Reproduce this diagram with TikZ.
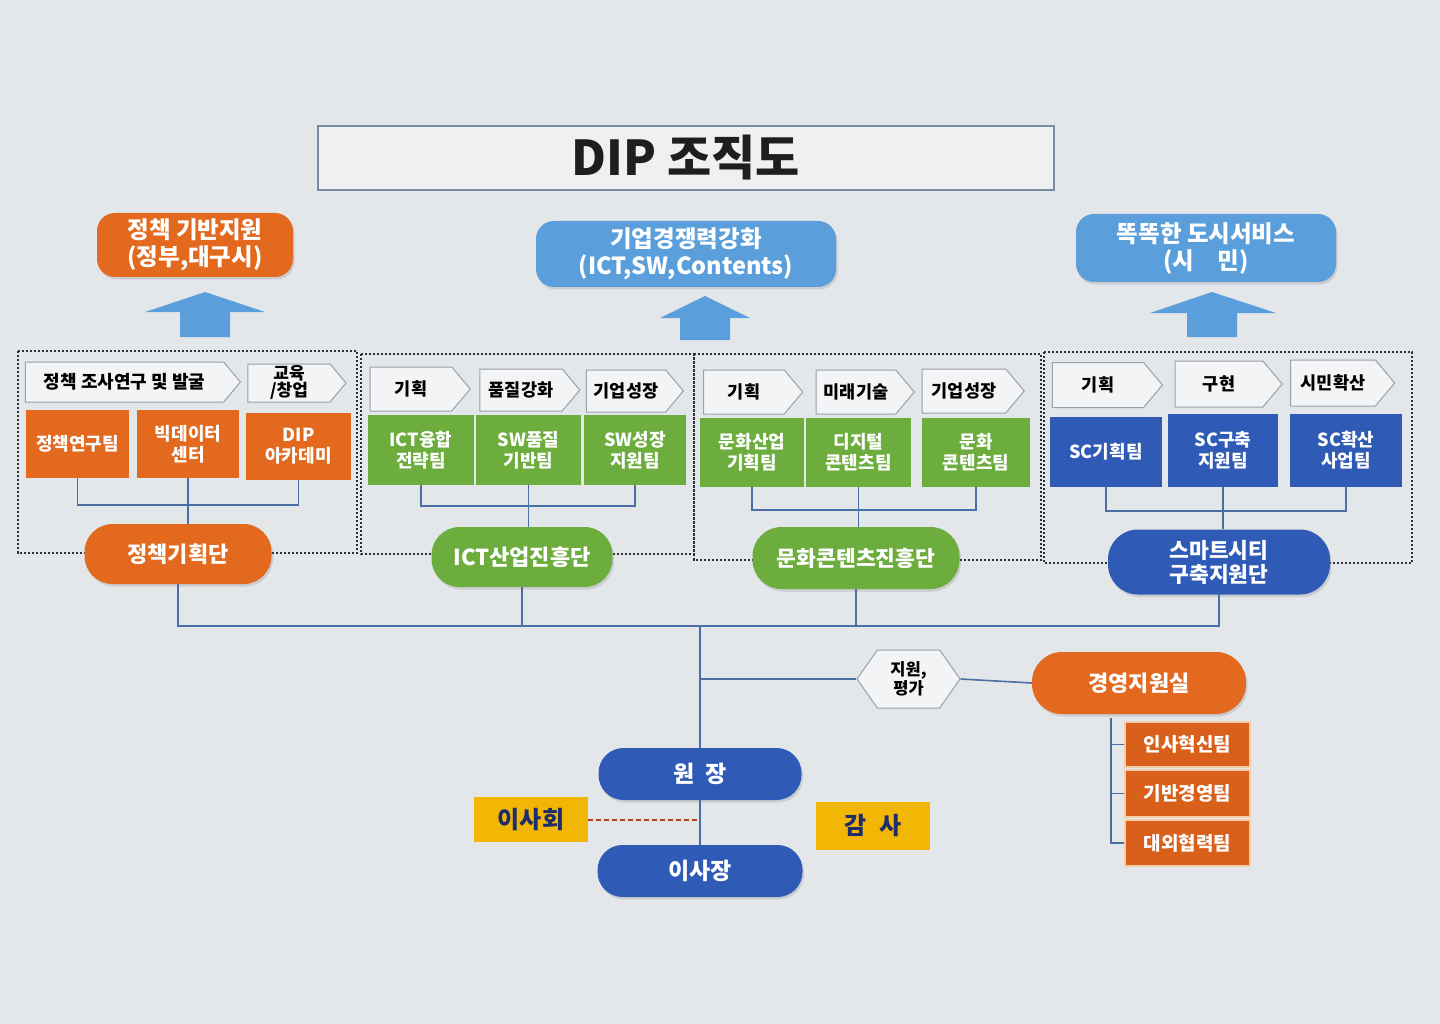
\documentclass[tikz,border=0pt]{standalone}
\usepackage{fontspec}
\setmainfont{Noto Sans CJK KR}
\usetikzlibrary{shapes.symbols,shadows}
\definecolor{bg}{HTML}{E4E7EA}
\definecolor{org}{HTML}{E2691E}
\definecolor{orgd}{HTML}{D8601A}
\definecolor{grn}{HTML}{6CAD3E}
\definecolor{blu}{HTML}{2F5BB7}
\definecolor{lblu}{HTML}{5A9FDB}
\definecolor{yel}{HTML}{F2B705}
\definecolor{navy}{HTML}{1E2D6B}
\definecolor{conn}{HTML}{4A6FA5}
\definecolor{chevfill}{HTML}{F3F4F6}
\definecolor{chevline}{HTML}{9AA0A8}
\definecolor{dotc}{HTML}{2A2F3C}
\definecolor{titleline}{HTML}{788CA5}
\definecolor{titlefill}{HTML}{EEF0F2}
\definecolor{titletext}{HTML}{1E1E1E}
\definecolor{steamline}{HTML}{F6CDAA}
\definecolor{dashred}{HTML}{B5421E}
\begin{document}
\begin{tikzpicture}[x=1pt,y=-1pt,
  sz/.style 2 args={minimum width=#1pt, minimum height=#2pt},
  team/.style={rectangle, inner sep=0pt, align=center, text=white,
    font=\fontsize{18}{21}\selectfont\bfseries},
  oteam/.style={team, fill=org},
  gteam/.style={team, fill=grn},
  bteam/.style={team, fill=blu},
  pill/.style={rectangle, rounded corners=#1, inner sep=0pt, align=center, text=white,
    font=\fontsize{22}{25}\selectfont\bfseries,
    drop shadow={opacity=0.25, shadow xshift=1.5pt, shadow yshift=-2.5pt}},
  chev/.style={signal, signal to=east, signal pointer angle=100, draw=chevline,
    line width=1pt, fill=chevfill, inner sep=0pt, align=center, text=black,
    font=\fontsize{17.5}{19}\selectfont\bfseries},
  dotbox/.style={draw=dotc, line width=2.4pt, dash pattern=on 2.4pt off 1.6pt},
  link/.style={draw=conn, line width=1.6pt},
  uparrow/.style={fill=lblu},
  ybox/.style={rectangle, fill=yel, inner sep=0pt, text=navy,
    font=\fontsize{24}{26}\selectfont\bfseries},
  steam/.style={rectangle, fill=orgd, draw=steamline, line width=1.2pt,
    inner sep=0pt, text=white, font=\fontsize{19}{21}\selectfont\bfseries}
]
\fill[bg] (0,0) rectangle (1440,1024);
\useasboundingbox (0,0) rectangle (1440,1024);

% title
\node[draw=titleline, line width=1.2pt, fill=titlefill, sz={736}{64},
  font=\fontsize{48}{52}\selectfont\bfseries, text=titletext] (title) at (686,158) {DIP 조직도};

% goals
\node[pill=18pt, fill=org, sz={196}{64}, font=\fontsize{23.5}{27}\selectfont\bfseries] (g1) at (195,245) {정책 기반지원\\(정부,대구시)};
\node[pill=18pt, fill=lblu, sz={300}{66}, font=\fontsize{23.5}{27}\selectfont\bfseries] (g2) at (686,254) {기업경쟁력강화\\(ICT,SW,Contents)};
\node[pill=18pt, fill=lblu, sz={260}{68}, font=\fontsize{23.5}{27}\selectfont\bfseries] (g3) at (1206,248) {똑똑한 도시서비스\\(시\quad 민)};

% up arrows
\fill[uparrow] (205,292) -- (265,312) -- (230,312) -- (230,337) -- (180,337) -- (180,312) -- (145,312) -- cycle;
\fill[uparrow] (705,296) -- (750,318) -- (730,318) -- (730,340) -- (680,340) -- (680,318) -- (660,318) -- cycle;
\fill[uparrow] (1212,292) -- (1276,313) -- (1237,313) -- (1237,337) -- (1187,337) -- (1187,313) -- (1150,313) -- cycle;

% dotted group frames
\draw[dotbox] (18,351) rectangle (357,553);
\draw[dotbox] (361,354) rectangle (694,554);
\draw[dotbox] (694,354) rectangle (1041,560);
\draw[dotbox] (1044,352) rectangle (1412,563);

% chevrons
\node[chev, sz={215}{40}, font=\fontsize{18}{20}\selectfont\bfseries] (c1a) at (124.5,382) {정책 조사연구 및 발굴};
\node[chev, sz={98}{38}, font=\fontsize{17}{17}\selectfont\bfseries] (c1b) at (289,383) {교육\\/창업};
\node[chev, sz={100}{44}] (c2a) at (411,389) {기획};
\node[chev, sz={100}{42}] (c2b) at (521,390) {품질강화};
\node[chev, sz={97}{42}] (c2c) at (626,391) {기업성장};
\node[chev, sz={99}{44}] (c3a) at (744,392) {기획};
\node[chev, sz={98}{44}] (c3b) at (856,392) {미래기술};
\node[chev, sz={102}{44}] (c3c) at (964,391) {기업성장};
\node[chev, sz={110}{45}] (c4a) at (1098,385) {기획};
\node[chev, sz={107}{46}] (c4b) at (1219,384) {구현};
\node[chev, sz={104}{46}] (c4c) at (1333,383) {시민확산};

% teams
\node[oteam, sz={103}{68}] (t1a) at (77.5,444) {정책연구팀};
\node[oteam, sz={102}{68}] (t1b) at (188,444) {빅데이터\\센터};
\node[oteam, sz={105}{67}] (t1c) at (298.5,446) {DIP\\아카데미};
\node[gteam, sz={106}{70}] (t2a) at (421,450) {ICT융합\\전략팀};
\node[gteam, sz={105}{70}] (t2b) at (528.5,450) {SW품질\\기반팀};
\node[gteam, sz={102}{70}] (t2c) at (635,450) {SW성장\\지원팀};
\node[gteam, sz={104}{69}] (t3a) at (752,452) {문화산업\\기획팀};
\node[gteam, sz={105}{69}] (t3b) at (858.5,452) {디지털\\콘텐츠팀};
\node[gteam, sz={108}{69}] (t3c) at (976,452) {문화\\콘텐츠팀};
\node[bteam, sz={112}{70}] (t4a) at (1106,452) {SC기획팀};
\node[bteam, sz={110}{73}] (t4b) at (1223,450) {SC구축\\지원팀};
\node[bteam, sz={112}{73}] (t4c) at (1346,450) {SC확산\\사업팀};

% divisions
\node[pill=28pt, fill=org, sz={187}{60}] (d1) at (178,554) {정책기획단};
\node[pill=28pt, fill=grn, sz={181}{60}] (d2) at (522,557) {ICT산업진흥단};
\node[pill=29pt, fill=grn, sz={207}{62}, font=\fontsize{21.5}{25}\selectfont\bfseries] (d3) at (856,558) {문화콘텐츠진흥단};
\node[pill=30pt, fill=blu, sz={222}{65}, font=\fontsize{21.5}{24}\selectfont\bfseries] (d4) at (1219,562) {스마트시티\\구축지원단};

% team brackets
\coordinate (b1) at (0,505);
\coordinate (b2) at (0,506);
\coordinate (b3) at (0,510);
\coordinate (b4) at (0,511);
\draw[link] (t1a.south) -- (t1a.south |- b1) -- (t1c.south |- b1) -- (t1c.south);
\draw[link] (t1b.south) -- (t1b.south |- d1.north);
\draw[link] (t2a.south) -- (t2a.south |- b2) -- (t2c.south |- b2) -- (t2c.south);
\draw[link] (t2b.south) -- (t2b.south |- d2.north);
\draw[link] (t3a.south) -- (t3a.south |- b3) -- (t3c.south |- b3) -- (t3c.south);
\draw[link] (t3b.south) -- (t3b.south |- d3.north);
\draw[link] (t4a.south) -- (t4a.south |- b4) -- (t4c.south |- b4) -- (t4c.south);
\draw[link] (t4b.south) -- (t4b.south |- d4.north);

% leadership
\node[pill=25pt, fill=blu, sz={203}{52}, font=\fontsize{23}{25}\selectfont\bfseries] (won) at (700,774) {원\enspace 장};
\node[pill=25pt, fill=blu, sz={205}{52}, font=\fontsize{23}{25}\selectfont\bfseries] (isj) at (700,871) {이사장};
\node[ybox, sz={114}{45}] (y1) at (531,819.5) {이사회};
\node[ybox, sz={114}{48}] (y2) at (873,826) {감\enspace 사};

% support
\node[signal, signal to=east and west, signal pointer angle=110, draw=chevline, line width=1pt,
  fill=chevfill, inner sep=0pt, align=center, sz={103}{58},
  font=\fontsize{16.5}{19}\selectfont\bfseries] (hx) at (908.5,679) {지원,\\평가};
\node[pill=30pt, fill=org, sz={214}{62}] (mg) at (1139,683) {경영지원실};
\node[steam, sz={125}{45}] (s1) at (1187.5,744.5) {인사혁신팀};
\node[steam, sz={125}{47}] (s2) at (1187.5,793.5) {기반경영팀};
\node[steam, sz={125}{46}] (s3) at (1187.5,843) {대외협력팀};

% bus
\coordinate (bus) at (0,626);
\draw[link] (d1.south) -- (d1.south |- bus) -- (d4.south |- bus) -- (d4.south);
\draw[link] (d2.south) -- (d2.south |- bus);
\draw[link] (d3.south) -- (d3.south |- bus);
\draw[link] (won.north |- bus) -- (won.north);
\draw[link] (won.north |- hx.west) -- (hx.west);
\draw[link] (hx.east) -- (mg.west);
\draw[link] (won.south) -- (isj.north);
\draw[dashred, line width=2pt, dash pattern=on 5pt off 3pt] (y1.east) -- (y1.east -| won.south);

% support bracket
\coordinate (mb) at (1111,718);
\draw[link] (mb) |- (s3.west);
\draw[link] (mb |- s1.west) -- (s1.west);
\draw[link] (mb |- s2.west) -- (s2.west);
\end{tikzpicture}
\end{document}
